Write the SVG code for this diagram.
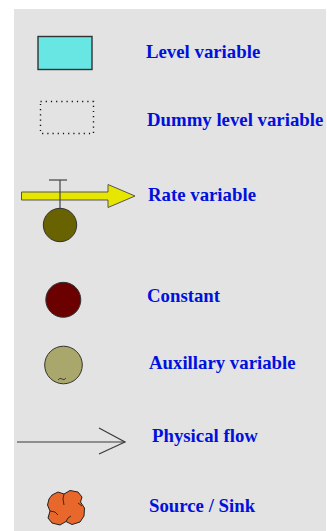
<svg xmlns="http://www.w3.org/2000/svg" width="327" height="531" viewBox="0 0 327 531">
  <style>
    .lbl { font-family: "Liberation Serif", "Times New Roman", serif; font-weight: bold; font-size: 18.8px; fill: #0010dd; }
    .edge { stroke: #3a3a3a; stroke-width: 1.2; }
  </style>
  <rect x="0" y="0" width="327" height="531" fill="#ffffff"/>
  <rect x="14" y="9" width="312" height="522" fill="#e3e3e3"/>

  <g id="level">
    <rect x="38" y="36.5" width="54" height="33" fill="#67e6e3" stroke="#333" stroke-width="1.4"/>
    <text class="lbl" x="146" y="58">Level variable</text>
  </g>

  <g id="dummy">
    <rect x="40.5" y="101.5" width="53" height="32" fill="none" stroke="#111" stroke-width="1.4" stroke-dasharray="1.2 4"/>
    <text class="lbl" x="147" y="126">Dummy level variable</text>
  </g>

  <g id="rate">
    <polygon points="21.5,192 108,192 108,184.5 135,196 108,207.5 108,200 21.5,200" fill="#e6e600" stroke="#555" stroke-width="1"/>
    <line x1="60" y1="180" x2="60" y2="209" stroke="#444" stroke-width="1.2"/>
    <line x1="49" y1="180" x2="67" y2="180" stroke="#444" stroke-width="1.2"/>
    <circle cx="60" cy="225" r="16.7" fill="#686200" stroke="#333" stroke-width="1"/>
    <text class="lbl" x="148" y="201">Rate variable</text>
  </g>

  <g id="constant">
    <circle cx="63.3" cy="299.8" r="17.5" fill="#6b0000" stroke="#333" stroke-width="1"/>
    <text class="lbl" x="147" y="301.5">Constant</text>
  </g>

  <g id="auxiliary">
    <circle cx="63.5" cy="365" r="18.8" fill="#aaa76c" stroke="#333" stroke-width="1"/>
    <path d="M58,380 q2,-3 4,-1 q2,2 4,-1" fill="none" stroke="#333" stroke-width="0.9"/>
    <text class="lbl" x="149" y="369">Auxillary variable</text>
  </g>

  <g id="connectors">
    <line class="edge" x1="17" y1="442" x2="125" y2="442"/>
    <polyline class="edge" points="99,428 125,442 99,454" fill="none"/>
  </g>
  <g id="physical-flow">
    <text class="lbl" x="152" y="442">Physical flow</text>
  </g>

  <g id="source-sink">
    <path d="M52,495 L58,492 L64,494 L70,490.5 L78,492 L82,497 L80.5,502 L84.5,508 L84,516 L80,522 L72,524.5 L66,521.5 L60,525 L52,523 L48,518 L50,511 L47.5,505 L49,499 Z" fill="#e8672a" stroke="#222" stroke-width="1"/>
    <path d="M64,494 L63,499 L64,505 M50,511 L55,512 L58,515 M78,503 L82,506 M66,521.5 L68,518 L71,516" fill="none" stroke="#222" stroke-width="0.9"/>
    <text class="lbl" x="149" y="512">Source / Sink</text>
  </g>
</svg>
